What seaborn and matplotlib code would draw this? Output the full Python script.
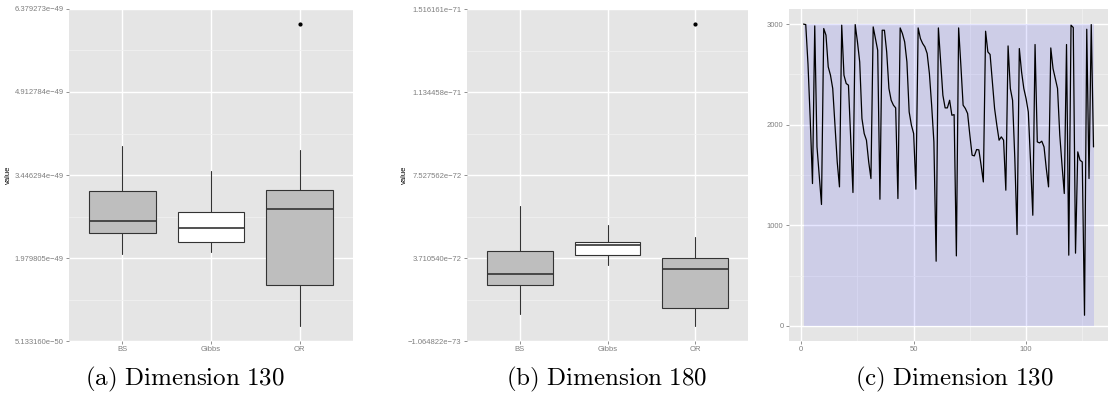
import numpy as np
import pandas as pd
import matplotlib
matplotlib.use("Agg")
import matplotlib.pyplot as plt
import seaborn as sns

# ---------------- data ----------------
methods = ["BS", "Gibbs", "OR"]
box_fill = ["#BEBEBE", "#FFFFFF", "#BEBEBE"]

# panel (a): Dimension 130  -> [whisker low, q1, median, q3, whisker high]
a_bs = [2.0558e-49, 2.4215e-49, 2.6283e-49, 3.1583e-49, 3.9587e-49]
a_gibbs = [2.0805e-49, 2.2625e-49, 2.5152e-49, 2.7873e-49, 3.5170e-49]
a_or = [7.837e-50, 1.5028e-49, 2.8403e-49, 3.1866e-49, 3.8827e-49]
a_outliers = [[], [], [6.1090e-49]]
a_ticks = [5.133160e-50, 1.979805e-49, 3.446294e-49, 4.912784e-49, 6.379273e-49]
a_ticklabels = ["5.133160e\u221250", "1.979805e\u221249", "3.446294e\u221249",
                "4.912784e\u221249", "6.379273e\u221249"]

# panel (b): Dimension 180
b_bs = [1.1490e-72, 2.4688e-72, 2.9885e-72, 4.0186e-72, 6.1157e-72]
b_gibbs = [3.4024e-72, 3.8485e-72, 4.2946e-72, 4.4325e-72, 5.2281e-72]
b_or = [5.971e-73, 1.4111e-72, 3.2046e-72, 3.6968e-72, 4.6625e-72]
b_outliers = [[], [], [1.4458e-71]]
b_ticks = [-1.064822e-73, 3.710540e-72, 7.527562e-72, 1.134458e-71, 1.516161e-71]
b_ticklabels = ["\u22121.064822e\u221273", "3.710540e\u221272", "7.527562e\u221272",
                "1.134458e\u221271", "1.516161e\u221271"]

# panel (c): Dimension 130, trace
iterations = list(range(1, 131))
trace = [3000, 2995, 2601, 2049, 1415, 2982, 1780, 1500, 1207, 2956,
         2890, 2575, 2492, 2360, 1995, 1630, 1382, 2989, 2492, 2409,
         2393, 1863, 1326, 2995, 2823, 2624, 2061, 1912, 1846, 1630,
         1465, 2972, 2857, 2740, 1259, 2939, 2939, 2724, 2360, 2243,
         2194, 2167, 1266, 2962, 2906, 2823, 2624, 2127, 1995, 1912,
         1359, 2962, 2857, 2807, 2773, 2708, 2509, 2194, 1829, 643,
         2962, 2624, 2293, 2167, 2167, 2243, 2094, 2100, 696, 2962,
         2591, 2194, 2161, 2111, 1896, 1697, 1690, 1753, 1750, 1597,
         1431, 2929, 2724, 2698, 2426, 2161, 1995, 1846, 1879, 1846,
         1349, 2783, 2360, 2243, 1664, 908, 2757, 2525, 2360, 2260,
         2127, 1630, 1100, 2797, 1829, 1819, 1836, 1779, 1565, 1382,
         2763, 2558, 2459, 2360, 1896, 1597, 1316, 2797, 703, 2989,
         2966, 723, 1730, 1647, 1630, 106, 2949, 1465, 2995, 1779]
trace_max = 3000
c_ticks_y = [0, 1000, 2000, 3000]
c_ticks_x = [0, 50, 100]

captions = ["(a) Dimension 130", "(b) Dimension 180", "(c) Dimension 130"]

# ---------------- style ----------------
sns.set_theme(style="darkgrid", rc={
    "axes.facecolor": "#E5E5E5",
    "grid.color": "white",
    "axes.edgecolor": "#E5E5E5",
})
plt.rcParams["font.family"] = ["Liberation Sans", "DejaVu Sans"]
plt.rcParams["mathtext.fontset"] = "cm"

W, H = 1109, 403
fig = plt.figure(figsize=(W / 100, H / 100), dpi=100)
fig.patch.set_facecolor("white")


def px_axes(x0, x1, y0, y1):
    return fig.add_axes([x0 / W, 1 - y1 / H, (x1 - x0) / W, (y1 - y0) / H])


TICK_COL = "#7F7F7F"
EDGE = "#333333"


def style_axes(ax):
    for s in ax.spines.values():
        s.set_visible(False)
    ax.tick_params(axis="both", which="major", length=2.4, width=0.6,
                   color=TICK_COL, labelcolor=TICK_COL, labelsize=5.5, pad=1.5,
                   left=True, bottom=True)
    ax.tick_params(axis="both", which="minor", length=0)
    ax.grid(which="major", color="white", lw=1.0)
    ax.grid(which="minor", color="#F2F2F2", lw=0.5)
    ax.set_axisbelow(True)


def box_panel(ax, groups, outliers, ticks, ticklabels, label_x):
    stats = []
    for name, g, out in zip(methods, groups, outliers):
        stats.append(dict(label=name, whislo=g[0], q1=g[1], med=g[2], q3=g[3],
                          whishi=g[4], fliers=out))
    bp = ax.bxp(stats, positions=range(len(methods)), widths=0.75,
                patch_artist=True, showcaps=False,
                boxprops=dict(edgecolor=EDGE, linewidth=0.8),
                medianprops=dict(color=EDGE, linewidth=1.2),
                whiskerprops=dict(color=EDGE, linewidth=0.8),
                flierprops=dict(marker="o", markersize=2.0,
                                markerfacecolor="black", markeredgecolor="black"))
    for patch, col in zip(bp["boxes"], box_fill):
        patch.set_facecolor(col)
    ax.set_xlim(-0.6, len(methods) - 0.4)
    ax.set_ylim(ticks[0], ticks[-1])
    ax.set_yticks(ticks)
    ax.set_yticklabels(ticklabels)
    ax.set_yticks([(ticks[i] + ticks[i + 1]) / 2 for i in range(len(ticks) - 1)],
                  minor=True)
    ax.set_xticks(range(len(methods)))
    ax.set_xticklabels(methods)
    style_axes(ax)
    ax.set_ylabel("value", fontsize=5.5, color="black")
    ax.yaxis.set_label_coords(label_x, 0.5)


ax_a = px_axes(69, 353, 9, 341)
box_panel(ax_a, [a_bs, a_gibbs, a_or], a_outliers, a_ticks, a_ticklabels, -0.202)

ax_b = px_axes(467, 748, 9, 341)
box_panel(ax_b, [b_bs, b_gibbs, b_or], b_outliers, b_ticks, b_ticklabels, -0.209)

ax_c = px_axes(789, 1108, 9, 341)
df = pd.DataFrame({"iteration": iterations, "value": trace})
ax_c.fill_between(df["iteration"], 0, trace_max, color="#0000FF", alpha=0.1,
                  linewidth=0)
sns.lineplot(data=df, x="iteration", y="value", ax=ax_c, color="black",
             linewidth=0.9)
span_x = iterations[-1] - iterations[0]
ax_c.set_xlim(iterations[0] - 0.05 * span_x, iterations[-1] + 0.05 * span_x)
ax_c.set_ylim(-0.05 * trace_max, 1.05 * trace_max)
ax_c.set_xticks(c_ticks_x)
ax_c.set_xticks([25, 75, 125], minor=True)
ax_c.set_yticks(c_ticks_y)
ax_c.set_yticks([500, 1500, 2500], minor=True)
ax_c.set_xlabel("")
ax_c.set_ylabel("")
style_axes(ax_c)

for cx, txt in zip([185, 607, 954], captions):
    fig.text(cx / W, 1 - 385 / H, r"$\mathrm{" + txt.replace(" ", r"\ ") + "}$",
             ha="center", va="baseline", fontsize=18, color="black")

fig.savefig("out.png", dpi=100)
